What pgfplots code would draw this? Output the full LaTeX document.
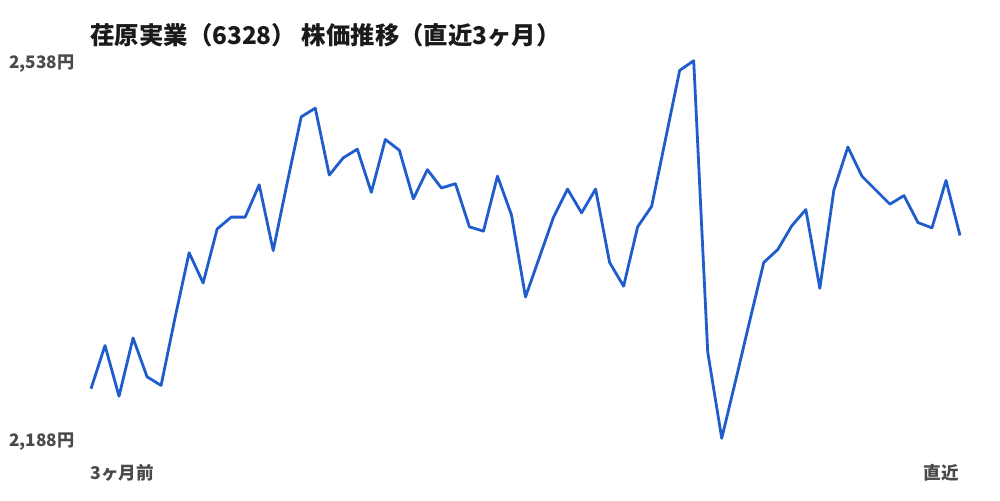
\documentclass[border=0pt]{standalone}
\usepackage{fontspec}
\setmainfont{Noto Sans CJK JP}
\usepackage{pgfplots}
\pgfplotsset{compat=1.18}
\definecolor{linec}{HTML}{1F5CCC}
\definecolor{labc}{HTML}{4A4A4A}
\definecolor{titc}{HTML}{1A1A1A}
\begin{document}
\begin{tikzpicture}[x=1pt,y=1pt]
\path[use as bounding box,fill=white] (0,0) rectangle (500,250);
\begin{axis}[
  at={(45.5pt,30.85pt)}, anchor=south west,
  scale only axis, width=434.5pt, height=188.8pt,
  xmin=0, xmax=62, ymin=2188, ymax=2538,
  axis line style={draw=none},
  xtick=\empty,
  ytick={2188,2538},
  yticklabels={{2,188円},{2,538円}},
  yticklabel style={font=\bfseries\fontsize{8.6}{10}\selectfont, text=labc, anchor=east, inner sep=0pt, xshift=-8pt, yshift=-1.5pt},
  major tick length=0pt,
  clip=false,
]
\addplot[linec, line width=1.4pt, line join=round] coordinates {
(0,2234) (1,2274) (2,2227) (3,2281) (4,2245) (5,2237) (6,2300) (7,2360)
(8,2332) (9,2382) (10,2393) (11,2393) (12,2423) (13,2362) (14,2425) (15,2486)
(16,2494) (17,2432) (18,2448) (19,2456) (20,2416) (21,2465) (22,2455) (23,2410)
(24,2437) (25,2420) (26,2424) (27,2384) (28,2380) (29,2431) (30,2395) (31,2319)
(32,2356) (33,2393) (34,2419) (35,2397) (36,2419) (37,2351) (38,2329) (39,2384)
(40,2403) (41,2466) (42,2529) (43,2538) (44,2268) (45,2188) (46,2242) (47,2297)
(48,2351) (49,2363) (50,2385) (51,2400) (52,2327) (53,2418) (54,2458) (55,2431)
(56,2418) (57,2405) (58,2413) (59,2388) (60,2383) (61,2427) (62,2376)
};
\end{axis}
\node[anchor=west, text=titc, font=\bfseries\fontsize{12.2}{14}\selectfont, inner sep=0pt] at (45,232.5) {荏原実業（6328） 株価推移（直近3ヶ月）};
\node[anchor=west, text=labc, font=\bfseries\fontsize{8.8}{10}\selectfont, inner sep=0pt] at (45,13.5) {3ヶ月前};
\node[anchor=east, text=labc, font=\bfseries\fontsize{8.8}{10}\selectfont, inner sep=0pt] at (479.5,13.5) {直近};
\end{tikzpicture}
\end{document}
